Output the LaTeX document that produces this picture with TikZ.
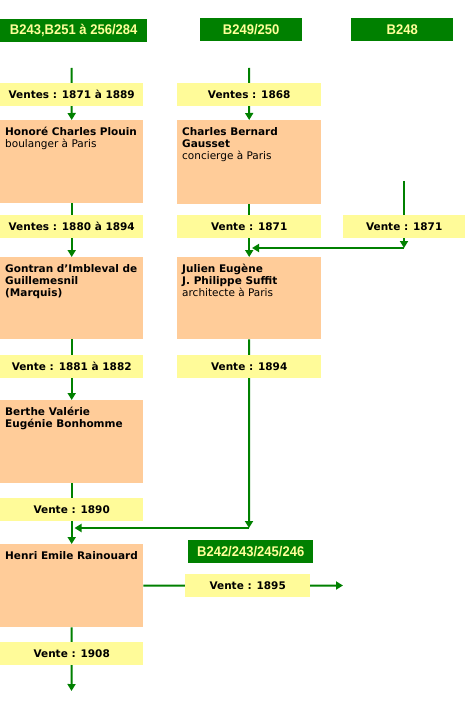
\documentclass[tikz,border=0pt]{standalone}
\usepackage{fontspec}
\setmainfont{DejaVu Sans}
\newfontfamily\hdrfont[FakeStretch=0.93]{Liberation Sans}
\usetikzlibrary{arrows.meta,backgrounds}
\definecolor{hgreen}{HTML}{008000}
\definecolor{htext}{HTML}{FFFF99}
\definecolor{lyel}{HTML}{FFFB99}
\definecolor{peach}{HTML}{FFCC99}
\newcommand\ptxt[3]{\parbox[c][#2][t]{#1}{\fontsize{10.5}{12}\selectfont\parindent=0pt\leftskip=5pt\rightskip=0pt plus 1fil\rule{0pt}{15.5pt}#3}}
\tikzset{
  hdr/.style={fill=hgreen, text=htext, font=\hdrfont\bfseries\fontsize{14}{16}\selectfont, inner sep=0pt, anchor=north west, minimum height=23pt},
  sale/.style={fill=lyel, font=\bfseries\fontsize{10.5}{12}\selectfont, inner sep=0pt, anchor=north west, minimum height=23pt},
  person/.style={fill=peach, inner sep=0pt, anchor=north west},
  conn/.style={draw=hgreen, line width=2pt},
  arr/.style={conn, -{Triangle[width=8pt,length=7pt]}},
}
\begin{document}
\begin{tikzpicture}[x=1pt,y=-1pt]
\useasboundingbox (0,0) rectangle (465,703);
% headers
\node[hdr, minimum width=147pt] (h1) at (0,19) {B243,B251 à 256/284};
\node[hdr, minimum width=102pt] (h2) at (200,18) {B249/250};
\node[hdr, minimum width=102pt] (h3) at (351,18) {B248};
\node[hdr, minimum width=125pt] (h4) at (188,540) {B242/243/245/246};
% sales
\node[sale, minimum width=143pt] (s1) at (0,83) {Ventes : 1871 à 1889};
\node[sale, minimum width=144pt] (s2) at (177,83) {Ventes : 1868};
\node[sale, minimum width=143pt] (s3) at (0,215) {Ventes : 1880 à 1894};
\node[sale, minimum width=144pt] (s4) at (177,215) {Vente : 1871};
\node[sale, minimum width=122pt] (s5) at (343,215) {Vente : 1871};
\node[sale, minimum width=143pt] (s6) at (0,355) {Vente : 1881 à 1882};
\node[sale, minimum width=144pt] (s7) at (177,355) {Vente : 1894};
\node[sale, minimum width=143pt] (s8) at (0,498) {Vente : 1890};
\node[sale, minimum width=125pt] (s9) at (185,574) {Vente : 1895};
\node[sale, minimum width=143pt] (s10) at (0,642) {Vente : 1908};
% persons
\node[person] (p1) at (0,120) {\ptxt{143pt}{83pt}{\textbf{Honoré Charles Plouin}\\boulanger à Paris}};
\node[person] (p2) at (177,120) {\ptxt{144pt}{84pt}{\textbf{Charles Bernard}\\\textbf{Gausset}\\concierge à Paris}};
\node[person] (p3) at (0,257) {\ptxt{143pt}{82pt}{\textbf{Gontran d’Imbleval de}\\\textbf{Guillemesnil}\\\textbf{(Marquis)}}};
\node[person] (p4) at (177,257) {\ptxt{144pt}{82pt}{\textbf{Julien Eugène}\\\textbf{J. Philippe Suffit}\\architecte à Paris}};
\node[person] (p5) at (0,400) {\ptxt{143pt}{83pt}{\textbf{Berthe Valérie}\\\textbf{Eugénie Bonhomme}}};
\node[person] (p6) at (0,544) {\ptxt{143pt}{83pt}{\textbf{Henri Emile Rainouard}}};
% free ends
\coordinate (c1s) at (71.5,68);
\coordinate (c2s) at (249,68);
\coordinate (c3s) at (404,181);
\coordinate (c3c) at (404,248);
\coordinate (c2j) at (252,248);
\coordinate (c2c) at (249,528);
\coordinate (c1j) at (74.5,528);
\coordinate (endc) at (71.5,691);
\coordinate (rend) at (343,585.5);
\begin{scope}[on background layer]
\draw[arr] (c1s) -- (p1.north);
\draw[arr] (p1.south) -- (p3.north);
\draw[arr] (p3.south) -- (p5.north);
\draw[arr] (p5.south) -- (p6.north);
\draw[arr] (p6.south) -- (endc);
\draw[arr] (c2s) -- (p2.north);
\draw[arr] (p2.south) -- (p4.north);
\draw[arr] (p4.south) -- (c2c);
\draw[arr] (c2c) -- (c1j);
\draw[arr] (c3s) -- (c3c);
\draw[arr] (c3c) -- (c2j);
\draw[arr] (p6.east) -- (rend);
\end{scope}
\end{tikzpicture}
\end{document}
